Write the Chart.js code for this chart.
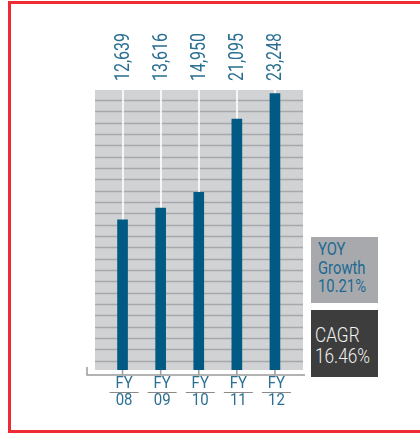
<!DOCTYPE html>
<html>
<head>
<meta charset="utf-8">
<script src="https://cdn.jsdelivr.net/npm/chart.js@4.4.1/dist/chart.umd.min.js"></script>
<style>
  html, body { margin:0; padding:0; background:#fff; overflow:hidden; }
  #wrap { position:relative; width:420px; height:434px; }
  #frame { position:absolute; left:8px; top:1px; width:440px; height:426px; border:3px solid #ee2a35; pointer-events:none; }
  canvas { position:absolute; left:0; top:0; }
  .box { position:absolute; font-family:Roboto,sans-serif; box-sizing:border-box; overflow:hidden; }
  .box span { display:block; transform-origin:0 50%; white-space:nowrap; }
  #yoy { left:311px; top:237px; width:67px; height:66px; background:#a8a9ad; color:#1d6991; font-size:18.5px; line-height:18.5px; padding:3px 0 0 7px; font-weight:400; }
  #yoy span { transform:scaleX(0.8); }
  #cagr { left:311px; top:310px; width:67px; height:67px; background:#3d3d3d; color:#f2f2f2; font-size:21px; line-height:21px; padding:15px 0 0 4px; font-weight:300; }
  #cagr span { transform:scaleX(0.82); }
</style>
</head>
<body>
<div id="wrap">
  <canvas id="c" width="420" height="434"></canvas>
  <div id="yoy" class="box"><span>YOY</span><span>Growth</span><span>10.21%</span></div>
  <div id="cagr" class="box"><span>CAGR</span><span>16.46%</span></div>
  <div id="frame"></div>
</div>
<script>
const categories = [["FY","08"],["FY","09"],["FY","10"],["FY","11"],["FY","12"]];
const revenue = [12639, 13616, 14950, 21095, 23248];
const valueLabels = ["12,639","13,616","14,950","21,095","23,248"];
const yMax = 23550;
const gridStart = 782;
const gridStep = 953;

const FONT = 'Roboto, sans-serif';
const BLUE_TEXT = '#2a6f91';

const decor = {
  id: 'decor',
  beforeDraw(chart) {
    const ctx = chart.ctx, a = chart.chartArea, y = chart.scales.y;
    const L = a.left - 8.5, R = a.right + 9;
    ctx.save();
    ctx.fillStyle = '#d1d2d4';
    ctx.fillRect(L, a.top, R - L, a.bottom - a.top);
    ctx.strokeStyle = '#a6a8ab';
    ctx.lineWidth = 1.3;
    for (let v = gridStart; v <= yMax; v += gridStep) {
      const py = Math.round(y.getPixelForValue(v)) + 0.5;
      ctx.beginPath(); ctx.moveTo(L, py); ctx.lineTo(R, py); ctx.stroke();
    }
    ctx.restore();
  },
  afterDraw(chart) {
    const ctx = chart.ctx, a = chart.chartArea;
    const meta = chart.getDatasetMeta(0);
    const xs = chart.scales.x;
    ctx.save();
    ctx.strokeStyle = '#9b9b9b';
    ctx.lineWidth = 1.5;
    ctx.beginPath();
    ctx.moveTo(a.left - 16.5, a.bottom - 3);
    ctx.lineTo(a.left - 16.5, a.bottom + 5);
    ctx.lineTo(a.right + 11, a.bottom + 5);
    ctx.stroke();
    meta.data.forEach((bar, i) => {
      ctx.strokeStyle = '#9b9b9b';
      ctx.lineWidth = 1.5;
      ctx.beginPath();
      ctx.moveTo(bar.x, a.bottom);
      ctx.lineTo(bar.x, a.bottom + 5);
      ctx.stroke();
      ctx.strokeStyle = '#8a8a8a';
      ctx.lineWidth = 1;
      ctx.beginPath();
      ctx.moveTo(bar.x - 13, a.bottom + 22.5);
      ctx.lineTo(bar.x + 16, a.bottom + 22.5);
      ctx.stroke();
      const lab = xs.getLabelForValue(i);
      const lines = Array.isArray(lab) ? lab : [lab];
      ctx.fillStyle = BLUE_TEXT;
      ctx.font = '17px ' + FONT;
      ctx.textAlign = 'center';
      ctx.textBaseline = 'middle';
      lines.forEach((t, k) => {
        ctx.save();
        ctx.translate(bar.x + 1.5, a.bottom + 13.5 + k * 17.5);
        ctx.scale(0.88, 1);
        ctx.fillText(t, 0, 0);
        ctx.restore();
      });
    });
    ctx.fillStyle = BLUE_TEXT;
    ctx.font = '21px ' + FONT;
    ctx.textAlign = 'left';
    ctx.textBaseline = 'middle';
    meta.data.forEach((bar, i) => {
      ctx.save();
      ctx.translate(bar.x + 1, 81);
      ctx.rotate(-Math.PI / 2);
      ctx.scale(0.76, 1);
      ctx.fillText(valueLabels[i], 0, 0);
      ctx.restore();
    });
    ctx.restore();
  }
};

new Chart(document.getElementById('c'), {
  type: 'bar',
  data: {
    labels: categories,
    datasets: [{
      data: revenue,
      backgroundColor: '#005a84',
      barThickness: 10,
      borderWidth: 0
    }]
  },
  options: {
    responsive: false,
    animation: false,
    events: [],
    layout: { padding: { left: 103.5, right: 126, top: 90, bottom: 0 } },
    plugins: { legend: { display: false }, tooltip: { enabled: false } },
    scales: {
      x: {
        offset: true,
        border: { display: false },
        grid: { offset: false, color: 'rgba(255,255,255,0.8)', lineWidth: 2, drawTicks: false },
        ticks: { display: false },
        afterFit(s) { s.height = 64; }
      },
      y: {
        display: false,
        min: 0,
        max: yMax
      }
    }
  },
  plugins: [decor]
});
</script>
</body>
</html>
